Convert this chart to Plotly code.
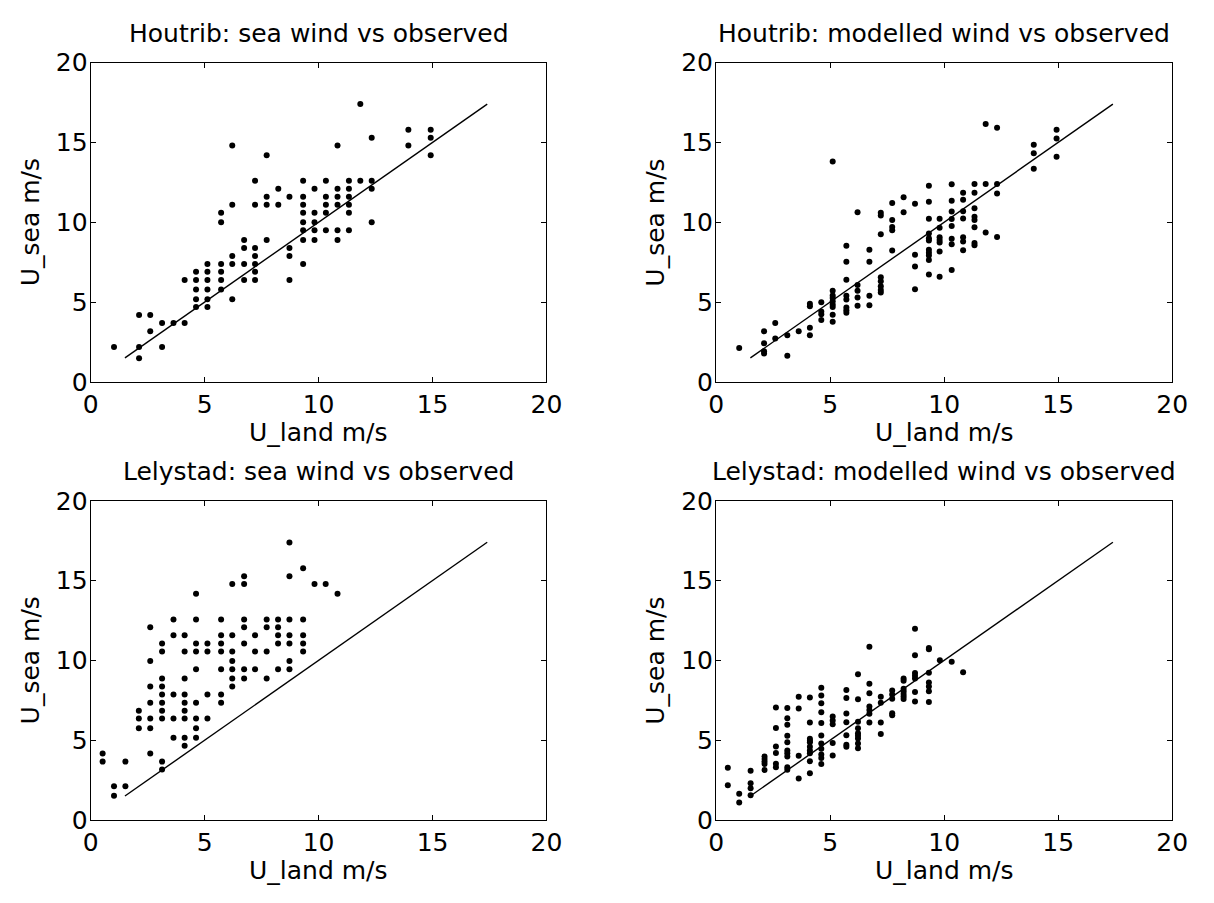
import plotly.graph_objects as go

# ---------------- data ----------------
ref_line = [1.5, 17.4]
tick_values = [0, 5, 10, 15, 20]

houtrib_sea_x = (
    [1.02] + [2.12] * 3 + [2.61] * 2 + [3.13] * 2 + [3.63] + [4.12] * 2
    + [4.62] * 5 + [5.12] * 6 + [5.72] * 6 + [6.21] * 5 + [6.73] * 4
    + [7.21] * 7 + [7.72] * 4 + [8.23] * 2 + [8.72] * 4 + [9.32] * 8
    + [9.82] * 5 + [10.32] * 5 + [10.83] * 6 + [11.33] * 6 + [11.83] * 2
    + [12.33] * 4 + [13.94] * 2 + [14.92] * 3
)
houtrib_sea_y = [
    2.18,
    2.18, 1.47, 4.18,
    4.18, 3.17,
    3.68, 2.18,
    3.68,
    3.68, 6.38,
    4.68, 5.17, 5.78, 6.38, 6.89,
    4.68, 5.17, 5.78, 6.38, 6.89, 7.38,
    5.78, 6.38, 6.89, 7.38, 10.0, 10.59,
    5.17, 7.38, 7.88, 11.09, 14.8,
    6.38, 7.38, 8.38, 8.89,
    6.38, 6.89, 7.38, 7.88, 8.38, 11.09, 12.6,
    8.89, 11.09, 11.59, 14.2,
    11.09, 12.1,
    6.38, 7.88, 8.38, 11.59,
    7.38, 8.89, 9.5, 10.0, 10.59, 11.09, 11.59, 12.6,
    8.89, 9.5, 10.0, 10.59, 12.1,
    9.5, 10.59, 11.09, 11.59, 12.6,
    8.89, 9.5, 11.09, 11.59, 12.1, 14.8,
    9.5, 10.59, 11.09, 11.59, 12.1, 12.6,
    12.6, 17.41,
    10.0, 12.1, 12.6, 15.29,
    14.8, 15.8,
    14.2, 15.29, 15.8,
]

houtrib_model_x = (
    [1.01] + [2.1] * 4 + [2.59] * 2 + [3.12] * 2 + [3.62] + [4.11] * 4
    + [4.61] * 4 + [5.11] * 9 + [5.71] * 8 + [6.2] * 5 + [6.72] * 4
    + [7.22] * 8 + [7.72] * 5 + [8.22] * 2 + [8.72] * 4 + [9.33] * 11
    + [9.8] * 7 + [10.33] * 8 + [10.83] * 7 + [11.33] * 8 + [11.82] * 3
    + [12.32] * 4 + [13.93] * 3 + [14.93] * 3
)
houtrib_model_y = [
    2.12,
    3.17, 2.42, 1.92, 1.78,
    3.68, 2.71,
    2.91, 1.64,
    3.17,
    3.39, 2.91, 4.89, 4.73,
    4.99, 4.4, 4.24, 3.88,
    13.8, 5.7, 5.41, 5.25, 5.05, 4.85, 4.69, 4.2, 3.76,
    8.53, 7.53, 6.4, 5.39, 5.15, 4.65, 4.48, 4.32,
    10.63, 6.06, 5.7, 5.29, 4.77,
    8.28, 7.53, 5.39, 4.79,
    10.59, 10.42, 9.25, 6.55, 6.3, 5.98, 5.76, 5.6,
    11.21, 10.14, 9.7, 9.5, 8.22,
    11.56, 10.63,
    11.15, 7.96, 7.23, 5.8,
    12.28, 11.29, 10.22, 9.29, 8.99, 8.85, 8.28, 8.08, 7.92, 7.64, 6.73,
    10.22, 9.66, 9.05, 8.89, 8.73, 8.16, 6.59,
    12.38, 11.35, 10.67, 10.2, 9.76, 8.97, 8.62, 7.01,
    11.84, 11.41, 10.69, 10.24, 9.05, 8.79, 8.24,
    12.4, 11.84, 10.87, 10.34, 10.14, 9.68, 8.69, 8.56,
    16.16, 12.4, 9.35,
    15.92, 12.4, 11.8, 9.07,
    14.85, 14.32, 13.35,
    15.8, 15.25, 14.1,
]

lelystad_sea_x = (
    [0.52] * 2 + [1.02] * 2 + [1.52] * 2 + [2.11] * 3 + [2.61] * 7
    + [3.13] * 10 + [3.63] * 5 + [4.12] * 9 + [4.62] * 9 + [5.12] * 4
    + [5.72] * 7 + [6.21] * 7 + [6.73] * 7 + [7.21] * 3 + [7.72] * 4
    + [8.22] * 5 + [8.72] * 7 + [9.32] * 5 + [9.82] + [10.31] + [10.83]
)
lelystad_sea_y = [
    4.16, 3.66,
    2.12, 1.52,
    3.66, 2.12,
    6.85, 6.36, 5.74,
    4.16, 12.08, 9.96, 8.36, 7.35, 6.36, 5.74,
    3.66, 3.17, 11.05, 10.56, 8.87, 8.36, 7.86, 7.35, 6.85, 6.36,
    12.56, 11.58, 7.86, 6.36, 5.15,
    11.58, 10.56, 8.87, 7.86, 7.35, 6.85, 6.36, 5.15, 4.65,
    14.18, 12.56, 11.05, 10.56, 9.45, 7.35, 6.36, 5.74, 5.15,
    11.05, 10.56, 7.86, 6.36,
    12.56, 11.58, 11.05, 10.56, 9.45, 7.86, 7.35,
    14.79, 11.58, 10.56, 9.96, 9.45, 8.87, 8.36,
    15.27, 14.79, 12.56, 12.08, 11.05, 9.45, 8.87,
    11.58, 10.56, 9.45,
    12.56, 12.08, 10.56, 8.87,
    12.56, 12.08, 11.58, 11.05, 9.45,
    17.38, 15.27, 12.56, 11.58, 11.05, 9.96, 9.45,
    15.78, 12.56, 11.58, 11.05, 10.56,
    14.79,
    14.79,
    14.18,
]

lelystad_model_x = (
    [0.51] * 2 + [1.01] * 2 + [1.51] * 4 + [2.12] * 5 + [2.62] * 6
    + [3.12] * 10 + [3.62] * 4 + [4.11] * 10 + [4.61] * 11 + [5.11] * 5
    + [5.71] * 7 + [6.22] * 9 + [6.72] * 7 + [7.22] * 4 + [7.72] * 5
    + [8.22] * 7 + [8.72] * 7 + [9.33] * 7 + [9.81] + [10.33] + [10.83]
)
lelystad_model_y = [
    3.27, 2.18,
    1.64, 1.09,
    3.09, 2.3, 1.98, 1.55,
    3.98, 3.82, 3.66, 3.5, 3.13,
    7.05, 5.76, 4.61, 4.2, 3.52, 3.31,
    7.01, 6.38, 5.96, 5.27, 4.87, 4.35, 4.18, 3.98, 3.31, 3.15,
    7.72, 6.99, 4.02, 2.6,
    7.68, 6.1, 5.09, 4.97, 4.87, 4.59, 4.35, 4.18, 3.68, 2.93,
    8.28, 7.8, 7.32, 6.75, 6.08, 5.29, 4.79, 4.47, 4.1, 3.88, 3.5,
    6.48, 6.24, 6.0, 4.83, 4.04,
    8.14, 7.64, 6.67, 6.12, 5.31, 4.71, 4.59,
    9.13, 7.56, 6.16, 5.74, 5.44, 5.27, 5.11, 4.79, 4.5,
    10.85, 8.53, 7.94, 7.11, 6.89, 6.65, 6.1,
    7.72, 7.35, 6.1, 5.39,
    8.12, 7.86, 7.6, 6.69, 6.56,
    8.87, 8.73, 8.22, 8.06, 7.9, 7.74, 7.58,
    11.98, 10.32, 9.21, 9.03, 8.87, 8.02, 7.43,
    10.77, 10.69, 9.23, 8.61, 8.36, 8.06, 7.39,
    10.0,
    9.92,
    9.25,
]

panel_titles = [
    "Houtrib: sea wind vs observed",
    "Houtrib: modelled wind vs observed",
    "Lelystad: sea wind vs observed",
    "Lelystad: modelled wind vs observed",
]
x_label = "U_land m/s"
y_label = "U_sea m/s"

# ---------------- layout geometry (window pixels) ----------------
# The page body keeps its default 8px margin, so the figure is made 16px
# smaller than the window and every window position is shifted by 8px.
WIN_W, WIN_H = 1214, 903
OFF = 8
W, H = WIN_W - 2 * OFF, WIN_H - 2 * OFF - 2
FONT = "DejaVu Sans, Verdana, sans-serif"
FS = 25

cols = [(84.3, 549.3), (722.5, 1187.8)]
rows = [(50, 380), (503, 833)]


def px_x(p):
    return (p - OFF) / W


def px_y(p):
    return (H - (p - OFF)) / H


fig = go.Figure()

panels = [
    (houtrib_sea_x, houtrib_sea_y),
    (houtrib_model_x, houtrib_model_y),
    (lelystad_sea_x, lelystad_sea_y),
    (lelystad_model_x, lelystad_model_y),
]

annotations = []
for i, (xs, ys) in enumerate(panels):
    r, c = divmod(i, 2)
    n = "" if i == 0 else str(i + 1)
    xa, ya = "x" + n, "y" + n
    fig.add_trace(go.Scatter(
        x=xs, y=ys, mode="markers", xaxis=xa, yaxis=ya,
        marker=dict(color="black", size=6, line=dict(width=0)),
        showlegend=False, hoverinfo="skip"))
    fig.add_trace(go.Scatter(
        x=ref_line, y=ref_line, mode="lines", xaxis=xa, yaxis=ya,
        line=dict(color="black", width=1.4),
        showlegend=False, hoverinfo="skip"))

    x0, x1 = cols[c]
    y0, y1 = rows[r]
    axcommon = dict(
        range=[0, 20], tickvals=tick_values, showgrid=False, zeroline=False,
        showline=True, linecolor="black", linewidth=1.4, mirror="ticks",
        ticks="inside", ticklen=5, tickwidth=1, tickcolor="black",
        tickfont=dict(family=FONT, size=FS, color="black"), fixedrange=True,
    )
    fig.update_layout(**{
        "xaxis" + n: dict(axcommon, domain=[px_x(x0), px_x(x1)], anchor=ya),
        "yaxis" + n: dict(axcommon, domain=[px_y(y1), px_y(y0)], anchor=xa,
                          ticklabelstandoff=-3),
    })
    cx = (x0 + x1) / 2
    annotations.append(dict(
        text=panel_titles[i], x=px_x(cx), y=px_y(y0 - 30), xref="paper", yref="paper",
        xanchor="center", yanchor="middle", showarrow=False,
        font=dict(family=FONT, size=FS, color="black")))
    annotations.append(dict(
        text=x_label, x=px_x(cx), y=px_y(y1 + 52), xref="paper", yref="paper",
        xanchor="center", yanchor="middle", showarrow=False,
        font=dict(family=FONT, size=FS, color="black")))
    annotations.append(dict(
        text=y_label, x=px_x(x0 - 62), y=px_y((y0 + y1) / 2), xref="paper", yref="paper",
        xanchor="center", yanchor="middle", showarrow=False, textangle=-90,
        font=dict(family=FONT, size=FS, color="black")))

fig.update_layout(
    width=W, height=H, autosize=False,
    margin=dict(l=0, r=0, t=0, b=0),
    paper_bgcolor="white", plot_bgcolor="white",
    annotations=annotations,
)

fig.write_html("out.html", config={"displayModeBar": False})
